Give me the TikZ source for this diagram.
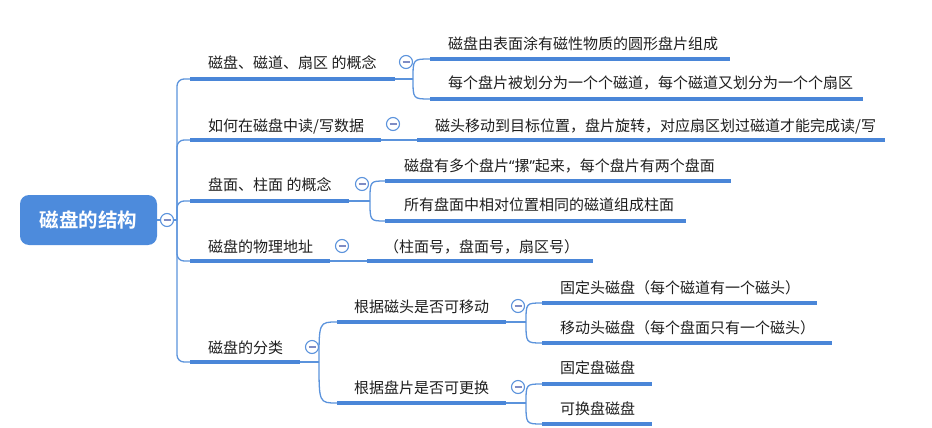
\documentclass[tikz,border=0pt]{standalone}
\usepackage{fontspec}
\newfontfamily\cjk{Noto Sans CJK SC}
\newfontfamily\cjkbold{Noto Sans CJK SC Bold}
\newfontfamily\latq{Noto Sans}
\definecolor{lineblue}{HTML}{4A86D8}
\definecolor{connblue}{HTML}{5B93DC}
\definecolor{rootblue}{HTML}{4D8BDC}
\definecolor{minusc}{HTML}{7F8CC4}
\definecolor{txt}{HTML}{1E1E1E}
\tikzset{
  lbl/.style={anchor=west, inner sep=0pt, text=txt, font=\cjk\fontsize{15}{17}\selectfont},
  uline/.style={draw=lineblue, line width=4pt},
  conn/.style={draw=connblue, line width=1.3pt},
  tog/.style={circle, draw=connblue, fill=white, line width=1.1pt, minimum size=13pt, inner sep=0pt,
    path picture={\draw[minusc, line width=1.1pt] ([xshift=-3.5pt]path picture bounding box.center) -- ([xshift=3.5pt]path picture bounding box.center);}},
  rootbox/.style={rounded corners=9pt, fill=rootblue, text=white, minimum width=137pt, minimum height=50pt, inner sep=0pt, font=\cjkbold\fontsize{19.5}{22}\selectfont}
}
\begin{document}
\begin{tikzpicture}[x=1pt,y=-1pt]
\useasboundingbox (0,0) rectangle (932,428);
% root
\node[rootbox] (root) at (88.5,220) {磁盘的结构};
\node[tog] (rc) at (167,220) {};
\coordinate (tr) at (177,220);
\draw[conn] (root.east) -- (rc.west);
\draw[conn] (rc.east) -- (tr);

% level 1 underline coordinates
\coordinate (u1a) at (190,79);  \coordinate (u1b) at (395,79);
\coordinate (u2a) at (190,140); \coordinate (u2b) at (381,140);
\coordinate (u3a) at (190,201); \coordinate (u3b) at (349,201);
\coordinate (u4a) at (190,261); \coordinate (u4b) at (330,261);
\coordinate (u5a) at (190,362); \coordinate (u5b) at (300,362);
\foreach \u in {u1a,u2a,u3a,u4a,u5a}{
  \draw[conn, rounded corners=7pt] (tr) |- (\u);
}
\draw[uline] (u1a) -- (u1b);
\draw[uline] (u2a) -- (u2b);
\draw[uline] (u3a) -- (u3b);
\draw[uline] (u4a) -- (u4b);
\draw[uline] (u5a) -- (u5b);
\node[lbl] (t1) at (208,63) {磁盘、磁道、扇区 的概念};
\node[lbl] (t2) at (208,126) {如何在磁盘中读/写数据};
\node[lbl] (t3) at (208,185) {盘面、柱面 的概念};
\node[lbl] (t4) at (208,247) {磁盘的物理地址};
\node[lbl] (t5) at (208,348) {磁盘的分类};
\node[tog] (c1) at (406,62) {};
\node[tog] (c2) at (393,124) {};
\node[tog] (c3) at (362,184) {};
\node[tog] (c4) at (342,246) {};
\node[tog] (c5) at (312,347) {};

% level 2 : item 1
\coordinate (s1) at (413,79);
\coordinate (v1a) at (430,59);  \coordinate (w1a) at (730,59);
\coordinate (v1b) at (430,99);  \coordinate (w1b) at (863,99);
\draw[conn] (u1b) -- (s1);
\draw[conn] (s1) .. controls (s1 |- v1a) .. (v1a);
\draw[conn] (s1) .. controls (s1 |- v1b) .. (v1b);
\draw[uline] (v1a) -- (w1a);
\draw[uline] (v1b) -- (w1b);
\node[lbl] (t1a) at (448,44) {磁盘由表面涂有磁性物质的圆形盘片组成};
\node[lbl] (t1b) at (448,83) {每个盘片被划分为一个个磁道，每个磁道又划分为一个个扇区};

% item 2
\coordinate (v2a) at (417,140); \coordinate (w2a) at (885,140);
\draw[conn] (u2b) -- (v2a);
\draw[uline] (v2a) -- (w2a);
\node[lbl] (t2a) at (435,126) {磁头移动到目标位置，盘片旋转，对应扇区划过磁道才能完成读/写};

% item 3
\coordinate (s3) at (370,201);
\coordinate (v3a) at (385,181); \coordinate (w3a) at (731,181);
\coordinate (v3b) at (385,221); \coordinate (w3b) at (686,221);
\draw[conn] (u3b) -- (s3);
\draw[conn] (s3) .. controls (s3 |- v3a) .. (v3a);
\draw[conn] (s3) .. controls (s3 |- v3b) .. (v3b);
\draw[uline] (v3a) -- (w3a);
\draw[uline] (v3b) -- (w3b);
\node[lbl] (t3a) at (404,166) {磁盘有多个盘片{\latq “}摞{\latq ”}起来，每个盘片有两个盘面};
\node[lbl] (t3b) at (404,205) {所有盘面中相对位置相同的磁道组成柱面};

% item 4
\coordinate (v4a) at (367,261); \coordinate (w4a) at (593,261);
\draw[conn] (u4b) -- (v4a);
\draw[uline] (v4a) -- (w4a);
\node[lbl] (t4a) at (384,247) {（柱面号，盘面号，扇区号）};

% item 5
\coordinate (s5) at (319,362);
\coordinate (v5a) at (337,322); \coordinate (w5a) at (506,322);
\coordinate (v5b) at (337,403); \coordinate (w5b) at (506,403);
\draw[conn] (u5b) -- (s5);
\draw[conn] (s5) .. controls (s5 |- v5a) .. (v5a);
\draw[conn] (s5) .. controls (s5 |- v5b) .. (v5b);
\draw[uline] (v5a) -- (w5a);
\draw[uline] (v5b) -- (w5b);
\node[lbl] (t5a) at (354,307) {根据磁头是否可移动};
\node[lbl] (t5b) at (354,388) {根据盘片是否可更换};
\node[tog] (c5a) at (518,306) {};
\node[tog] (c5b) at (518,387) {};

% level 3 under 5a
\coordinate (s5a) at (526,322);
\coordinate (x1a) at (542,303); \coordinate (y1a) at (817,303);
\coordinate (x1b) at (542,343); \coordinate (y1b) at (832,343);
\draw[conn] (w5a) -- (s5a);
\draw[conn] (s5a) .. controls (s5a |- x1a) .. (x1a);
\draw[conn] (s5a) .. controls (s5a |- x1b) .. (x1b);
\draw[uline] (x1a) -- (y1a);
\draw[uline] (x1b) -- (y1b);
\node[lbl] (t5a1) at (560,288) {固定头磁盘（每个磁道有一个磁头）};
\node[lbl] (t5a2) at (560,328) {移动头磁盘（每个盘面只有一个磁头）};

% level 3 under 5b
\coordinate (s5b) at (526,403);
\coordinate (x2a) at (542,384); \coordinate (y2a) at (652,384);
\coordinate (x2b) at (542,424); \coordinate (y2b) at (652,424);
\draw[conn] (w5b) -- (s5b);
\draw[conn] (s5b) .. controls (s5b |- x2a) .. (x2a);
\draw[conn] (s5b) .. controls (s5b |- x2b) .. (x2b);
\draw[uline] (x2a) -- (y2a);
\draw[uline] (x2b) -- (y2b);
\node[lbl] (t5b1) at (560,368) {固定盘磁盘};
\node[lbl] (t5b2) at (560,409) {可换盘磁盘};
\end{tikzpicture}
\end{document}
